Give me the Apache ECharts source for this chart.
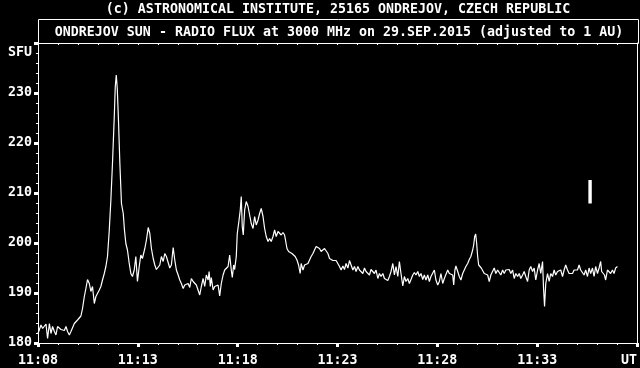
<!DOCTYPE html>
<html>
<head>
<meta charset="utf-8">
<script src="https://cdn.jsdelivr.net/npm/echarts@6/dist/echarts.min.js"></script>
<style>
html,body{margin:0;padding:0;background:#000;}
#chart{width:640px;height:368px;}
</style>
</head>
<body>
<div id="chart"></div>
<script>
// minutes since 11:08 UT, flux in SFU
var fluxSamples = [
[0.00,181.9],[0.15,183.6],[0.23,182.9],[0.32,183.3],[0.40,183.8],[0.48,180.9],[0.57,183.9],[0.65,181.9],[0.73,183.3],[0.82,182.3],[0.90,181.6],[0.98,183.3],[1.07,182.9],[1.15,182.7],[1.23,183.1],[1.32,182.5],[1.40,183.3],[1.48,182.3],[1.57,181.6],[1.65,182.3],[1.73,182.6],[1.82,183.9],[1.90,183.6],[1.98,184.6],[2.07,184.3],[2.15,185.4],[2.23,186.9],[2.32,189.3],[2.40,190.9],[2.48,192.7],[2.57,191.9],[2.65,190.3],[2.73,191.3],[2.82,187.9],[2.90,189.3],[2.98,188.9],[3.07,190.6],[3.15,191.3],[3.23,192.6],[3.32,193.9],[3.40,195.3],[3.48,197.3],[3.57,202.6],[3.65,208.6],[3.73,215.9],[3.82,225.3],[3.87,231.3],[3.92,233.6],[3.97,230.9],[4.03,224.6],[4.10,215.9],[4.18,207.9],[4.27,205.9],[4.33,202.6],[4.40,199.9],[4.48,198.6],[4.57,195.9],[4.65,193.9],[4.73,193.3],[4.82,194.6],[4.90,197.3],[4.98,192.3],
[5.07,195.3],[5.15,197.6],[5.23,196.9],[5.35,198.9],[5.43,200.6],[5.52,203.1],[5.60,201.9],[5.68,198.9],[5.77,196.9],[5.85,195.6],[5.93,194.7],[6.02,194.3],[6.10,195.6],[6.18,197.3],[6.27,196.3],[6.35,197.9],[6.43,197.3],[6.52,197.6],[6.60,195.0],[6.68,195.6],[6.77,199.1],[6.85,196.6],[6.93,194.6],[7.02,193.6],[7.10,192.6],[7.18,191.9],[7.27,190.9],[7.35,191.6],[7.43,191.3],[7.52,191.9],[7.60,191.1],[7.68,192.9],[7.77,192.3],[7.85,191.9],[7.93,191.6],[8.02,191.3],[8.10,189.6],[8.18,191.3],[8.27,192.9],[8.35,191.3],[8.43,193.6],[8.52,192.6],[8.57,194.3],[8.63,191.3],[8.68,193.1],[8.77,190.6],[8.85,191.3],[8.93,190.9],[9.02,191.6],[9.10,189.4],[9.18,191.9],[9.27,193.6],[9.35,194.6],[9.43,194.5],[9.52,195.3],
[9.60,197.6],[9.68,194.6],[9.73,193.1],[9.80,195.6],[9.85,194.7],[9.93,197.3],[9.98,201.9],[10.07,204.6],[10.13,206.6],[10.18,209.3],[10.23,203.3],[10.28,201.6],[10.35,206.6],[10.43,208.3],[10.52,207.3],[10.60,205.6],[10.68,203.9],[10.77,202.9],[10.85,205.3],[10.93,203.6],[11.02,204.6],[11.10,205.9],[11.18,206.9],[11.27,205.3],[11.35,202.9],[11.43,201.3],[11.52,200.3],[11.60,200.9],[11.68,200.3],[11.77,201.3],[11.85,202.6],[11.93,201.3],[12.02,202.3],[12.10,201.9],[12.18,201.6],[12.27,202.1],[12.35,201.6],[12.43,201.3],[12.47,198.9],[12.55,198.3],[12.63,198.6],[12.72,197.9],[12.80,198.1],[12.88,197.3],[12.97,196.6],[13.05,195.6],[13.13,193.9],[13.18,195.9],[13.27,194.6],[13.35,195.6],[13.43,195.3],[13.52,195.9],[13.60,196.6],[13.68,197.3],[13.77,197.9],[13.85,198.6],[13.93,199.3],[14.02,199.6],[14.10,198.9],[14.18,198.3],[14.27,198.6],[14.35,198.9],[14.43,199.3],[14.52,197.9],[14.60,196.9],
[14.68,196.9],[14.77,196.5],[14.85,196.3],[14.93,196.5],[15.02,196.9],[15.10,195.3],[15.18,194.6],[15.27,195.4],[15.35,194.7],[15.43,195.9],[15.52,195.0],[15.60,196.5],[15.68,195.6],[15.77,194.6],[15.85,195.3],[15.93,194.3],[16.02,195.3],[16.10,194.6],[16.18,195.0],[16.27,193.9],[16.35,195.0],[16.43,194.3],[16.52,193.9],[16.60,193.6],[16.68,194.7],[16.77,194.6],[16.85,193.9],[16.93,194.6],[17.02,192.9],[17.10,193.9],[17.18,193.3],[17.27,193.9],[17.35,192.9],[17.43,193.3],[17.52,192.5],[17.60,193.3],[17.68,194.3],[17.77,195.9],[17.85,193.6],[17.93,195.3],[18.02,193.3],[18.10,196.3],[18.18,193.9],[18.27,191.4],[18.35,193.3],[18.43,192.3],[18.52,192.9],[18.60,191.9],[18.68,192.7],[18.77,193.6],[18.85,194.1],[18.93,193.6],[19.02,194.3],[19.10,193.3],[19.18,193.9],[19.27,192.7],[19.35,193.6],[19.43,192.6],[19.52,193.6],
[19.60,192.3],[19.68,193.3],[19.77,193.6],[19.85,194.6],[19.93,192.6],[20.02,191.6],[20.10,192.3],[20.18,193.9],[20.27,191.9],[20.35,192.9],[20.43,192.6],[20.52,194.6],[20.60,193.9],[20.68,194.3],[20.77,193.6],[20.82,191.6],[20.88,194.6],[20.93,195.4],[21.02,194.3],[21.10,193.3],[21.18,192.6],[21.27,193.9],[21.35,193.6],[21.43,195.3],[21.52,195.9],[21.60,196.7],[21.68,197.3],[21.77,198.6],[21.82,199.6],[21.87,201.3],[21.92,201.8],[21.97,199.9],[22.02,197.3],[22.07,195.6],[22.13,195.9],[22.20,195.0],[22.27,194.6],[22.35,193.9],[22.43,194.3],[22.52,193.6],[22.60,192.3],[22.68,193.6],[22.77,193.9],[22.85,195.0],[22.93,193.9],[23.02,194.6],[23.10,194.3],[23.18,193.6],[23.27,194.6],[23.35,193.9],[23.43,194.6],[23.52,194.3],[23.60,194.7],[23.68,193.9],[23.77,194.6],[23.85,192.9],[23.93,193.9],[24.02,193.3],[24.10,193.9],[24.18,192.9],[24.27,193.6],[24.35,194.3],[24.43,193.3],[24.52,192.3],
[24.60,194.6],[24.68,195.3],[24.77,194.3],[24.85,195.0],[24.93,192.6],[25.02,194.6],[25.10,195.9],[25.18,193.9],[25.27,196.3],[25.32,190.9],[25.37,187.3],[25.43,191.9],[25.52,193.9],[25.60,192.3],[25.68,193.9],[25.77,193.3],[25.85,194.6],[25.93,193.6],[26.02,194.3],[26.10,193.9],[26.18,194.6],[26.27,193.3],[26.35,194.6],[26.43,195.6],[26.52,194.6],[26.60,193.9],[26.68,194.3],[26.77,193.9],[26.85,194.6],[26.93,195.0],[27.02,194.6],[27.10,195.6],[27.18,194.6],[27.27,195.0],[27.35,193.6],[27.43,194.6],[27.52,193.3],[27.60,195.0],[27.68,193.9],[27.77,195.0],[27.85,193.3],[27.93,195.3],[28.02,193.9],[28.10,195.0],[28.18,196.3],[28.23,194.3],[28.30,194.6],[28.37,193.6],[28.43,192.6],[28.52,194.6],[28.60,195.0],[28.68,193.9],[28.77,194.6],[28.85,193.9],[28.93,195.0],[29.02,195.3]
];
// vertical scale bar (minutes, SFU)
var scaleBar = [[27.65, 207.9], [27.65, 212.6]];
var timeLabels = ['11:08', '11:13', '11:18', '11:23', '11:28', '11:33', 'UT'];
var sfuTicks = [180, 190, 200, 210, 220, 230];
var titleTop = '(c) ASTRONOMICAL INSTITUTE, 25165 ONDREJOV, CZECH REPUBLIC';
var titleMain = 'ONDREJOV SUN - RADIO FLUX at 3000 MHz on 29.SEP.2015 (adjusted to 1 AU)';

var FONT = '"DejaVu Sans Mono", "Liberation Mono", monospace';
var chart = echarts.init(document.getElementById('chart'), null, {renderer: 'canvas'});
var white = '#ffffff';
chart.setOption({
  backgroundColor: '#000000',
  animation: false,
  grid: {left: 38, right: 2, top: 43, bottom: 25, containLabel: false},
  xAxis: [{
    type: 'value', min: 0, max: 30, interval: 5, position: 'bottom',
    axisLine: {show: true, onZero: false, lineStyle: {color: white, width: 1}},
    axisTick: {show: true, inside: false, length: 4, lineStyle: {color: white, width: 3}},
    minorTick: {show: true, splitNumber: 5, length: 2, lineStyle: {color: white, width: 1}},
    splitLine: {show: false},
    axisLabel: {
      show: true, color: white, fontFamily: FONT, fontSize: 13.3, fontWeight: 'bold', margin: 11,
      showMinLabel: true, showMaxLabel: true, alignMaxLabel: 'right',
      formatter: function (v) { return timeLabels[Math.round(v / 5)]; }
    }
  }, {
    type: 'value', min: 0, max: 30, interval: 1, position: 'top',
    axisLine: {show: true, onZero: false, lineStyle: {color: white, width: 1}},
    axisTick: {show: true, inside: true, length: 2, lineStyle: {color: white, width: 1}},
    splitLine: {show: false},
    axisLabel: {show: false}
  }],
  yAxis: [{
    type: 'value', min: 180, max: 240, interval: 10, position: 'left',
    axisLine: {show: true, onZero: false, lineStyle: {color: white, width: 1}},
    axisTick: {show: true, inside: false, length: 4, lineStyle: {color: white, width: 3}},
    minorTick: {show: true, splitNumber: 5, length: 2, lineStyle: {color: white, width: 1}},
    splitLine: {show: false},
    axisLabel: {
      show: true, color: white, fontFamily: FONT, fontSize: 13.3, fontWeight: 'bold', margin: 6,
      showMaxLabel: false,
      formatter: function (v) { return sfuTicks.indexOf(v) >= 0 ? String(v) : ''; }
    }
  }, {
    type: 'value', min: 180, max: 240, position: 'right',
    axisLine: {show: true, onZero: false, lineStyle: {color: white, width: 1}},
    axisTick: {show: false}, splitLine: {show: false}, axisLabel: {show: false}
  }],
  graphic: [
    {type: 'rect', shape: {x: 38.5, y: 19.5, width: 600, height: 24}, style: {fill: 'none', stroke: white, lineWidth: 1}, silent: true},
    {type: 'text', x: 338, y: 10, style: {text: titleTop, fill: white, font: 'bold 13.3px ' + FONT, align: 'center', verticalAlign: 'middle', textAlign: 'center', textVerticalAlign: 'middle'}},
    {type: 'text', x: 339, y: 33, style: {text: titleMain, fill: white, font: 'bold 13.3px ' + FONT, align: 'center', verticalAlign: 'middle', textAlign: 'center', textVerticalAlign: 'middle'}},
    {type: 'text', x: 32, y: 53, style: {text: 'SFU', fill: white, font: 'bold 13.3px ' + FONT, align: 'right', verticalAlign: 'middle', textAlign: 'right', textVerticalAlign: 'middle'}}
  ],
  series: [{
    type: 'line', data: fluxSamples, xAxisIndex: 0, yAxisIndex: 0,
    showSymbol: false, symbol: 'none', smooth: false,
    lineStyle: {color: white, width: 1.2}, silent: true
  }, {
    type: 'line', data: scaleBar, xAxisIndex: 0, yAxisIndex: 0,
    showSymbol: false, symbol: 'none',
    lineStyle: {color: white, width: 3.4, cap: 'butt'}, silent: true
  }]
});
</script>
</body>
</html>
